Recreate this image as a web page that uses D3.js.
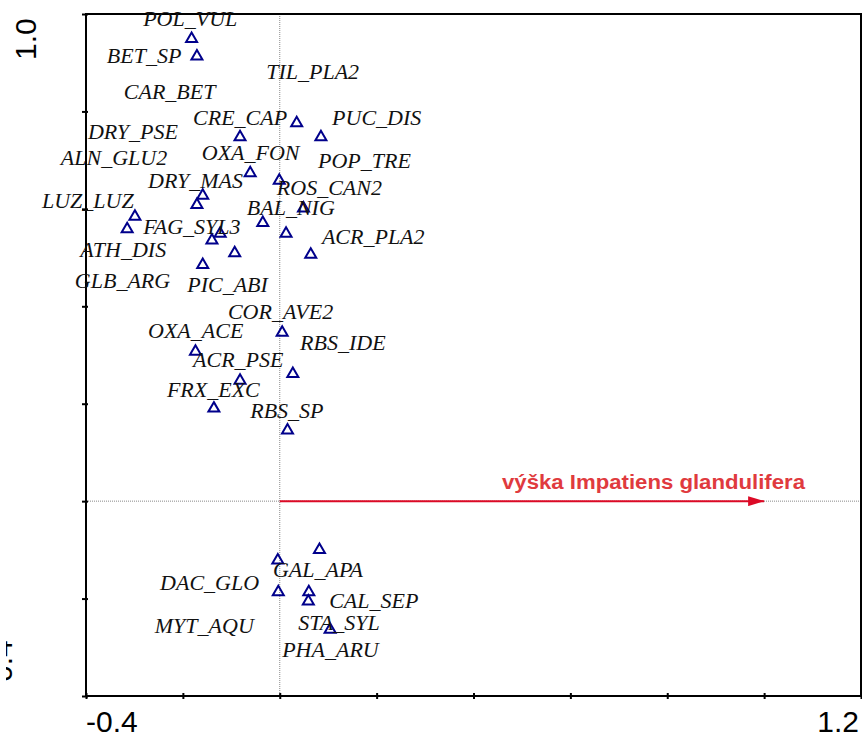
<!DOCTYPE html>
<html><head><meta charset="utf-8">
<script src="https://cdn.jsdelivr.net/npm/d3@7"></script>
<style>body{margin:0;background:#fff}svg{display:block}</style>
</head><body>
<script>
// ---- data ----
const species = ["POL_VUL","BET_SP","DRY_PSE","CRE_CAP","PUC_DIS","OXA_FON","ROS_CAN2","DRY_MAS","ALN_GLU2","BAL_NIG","LUZ_LUZ","TIL_PLA2","CAR_BET","FAG_SYL3","POP_TRE","ATH_DIS","PIC_ABI","ACR_PLA2","GLB_ARG","COR_AVE2","OXA_ACE","RBS_IDE","ACR_PSE","FRX_EXC","RBS_SP","GAL_APA","DAC_GLO","MYT_AQU","CAL_SEP","STA_SYL","PHA_ARU"];
const speciesX = [-0.182,-0.171,-0.082,0.035,0.085,-0.061,-0.001,-0.159,-0.171,0.049,-0.299,-0.035,-0.315,-0.123,0.013,-0.140,-0.093,0.064,-0.159,0.005,-0.174,0.027,-0.082,-0.136,0.016,0.082,-0.004,-0.003,0.060,0.059,0.104];
const speciesY = [0.952,0.916,0.750,0.779,0.750,0.676,0.661,0.630,0.611,0.604,0.587,0.574,0.561,0.552,0.552,0.538,0.512,0.509,0.488,0.349,0.310,0.264,0.250,0.193,0.148,-0.097,-0.119,-0.184,-0.184,-0.203,-0.261];
// label anchor positions (chart units)
const labelX = [-0.282,-0.357,-0.396,-0.179,0.108,-0.161,-0.006,-0.272,-0.452,-0.068,-0.491,-0.028,-0.322,-0.282,0.079,-0.412,-0.191,0.087,-0.423,-0.107,-0.272,0.042,-0.179,-0.233,-0.061,-0.014,-0.247,-0.258,0.102,0.038,0.005];
const labelY = [0.975,0.899,0.743,0.772,0.772,0.700,0.628,0.643,0.690,0.587,0.602,0.867,0.826,0.548,0.684,0.501,0.429,0.528,0.438,0.374,0.335,0.310,0.275,0.214,0.171,-0.156,-0.182,-0.271,-0.219,-0.265,-0.320];
const envName = "výška Impatiens glandulifera";
const envX = [0, 1.0];
const envY = [0, 0];
const xDomain = [-0.4, 1.2];
const yDomain = [-0.4, 1.0];
const xTicks = [-0.4,-0.2,0,0.2,0.4,0.6,0.8,1.0,1.2];
const yTicks = [-0.4,-0.2,0,0.2,0.4,0.6,0.8,1.0];
const xTickLabels = ["-0.4","1.2"];
const yTickLabels = ["-0.4","1.0"];

// ---- drawing ----
const W = 862, H = 736;
const L = 86, R = 861, T = 14, B = 696;
const svg = d3.select("body").append("svg").attr("width", W).attr("height", H);
const x = d3.scaleLinear().domain(xDomain).range([L, R]);
const y = d3.scaleLinear().domain(yDomain).range([B, T]);
const defs = svg.append("defs");
defs.append("clipPath").attr("id", "ylc").append("rect").attr("x", 6).attr("y", 600).attr("width", 40).attr("height", 100);

// zero lines
svg.append("line").attr("x1", x(0)).attr("x2", x(0)).attr("y1", T).attr("y2", B)
  .attr("stroke", "#888").attr("stroke-width", 1).attr("stroke-dasharray", "1,1");
svg.append("line").attr("x1", L).attr("x2", R).attr("y1", y(0)).attr("y2", y(0))
  .attr("stroke", "#888").attr("stroke-width", 1).attr("stroke-dasharray", "1,1");

// frame
svg.append("rect").attr("x", L).attr("y", T).attr("width", R - L).attr("height", B - T)
  .attr("fill", "none").attr("stroke", "#000").attr("stroke-width", 2);

// axes ticks
const xAxis = d3.axisBottom(x).tickValues(xTicks).tickSize(3).tickFormat("");
const gx = svg.append("g").attr("transform", `translate(0,${B})`).call(xAxis);
gx.select(".domain").remove();
gx.selectAll(".tick line").attr("y1", -3).attr("y2", 3).attr("stroke", "#000").attr("stroke-width", 2);
const yAxis = d3.axisLeft(y).tickValues(yTicks).tickSize(3).tickFormat("");
const gy = svg.append("g").attr("transform", `translate(${L},0)`).call(yAxis);
gy.select(".domain").remove();
gy.selectAll(".tick line").attr("x1", -4).attr("x2", 2).attr("stroke", "#000").attr("stroke-width", 2);

// tick labels
const tf = "'Liberation Sans', Arial, sans-serif";
svg.append("text").attr("x", x(xDomain[0])).attr("y", 732).attr("text-anchor", "start")
  .attr("font-family", tf).attr("font-size", 30).text(xTickLabels[0]);
svg.append("text").attr("x", x(xDomain[1]) - 2).attr("y", 732).attr("text-anchor", "end")
  .attr("font-family", tf).attr("font-size", 30).text(xTickLabels[1]);
svg.append("text").attr("transform", `translate(36,60) rotate(-90)`).attr("text-anchor", "start")
  .attr("font-family", tf).attr("font-size", 30).text(yTickLabels[1]);
svg.append("g").attr("clip-path", "url(#ylc)")
  .append("text").attr("transform", `translate(12,692) rotate(-90)`).attr("text-anchor", "start")
  .attr("font-family", tf).attr("font-size", 30).text(yTickLabels[0]);

// env arrow
defs.append("marker").attr("id", "ah").attr("viewBox", "0 0 16 10").attr("refX", 16).attr("refY", 5)
  .attr("markerWidth", 16).attr("markerHeight", 10).attr("markerUnits", "userSpaceOnUse").attr("orient", "auto")
  .append("path").attr("d", "M0,0 L16,5 L0,10 Z").attr("fill", "#dc0a26");
svg.append("line").attr("x1", x(envX[0])).attr("y1", y(envY[0])).attr("x2", x(envX[1])).attr("y2", y(envY[1]))
  .attr("stroke", "#dc0a26").attr("stroke-width", 2).attr("marker-end", "url(#ah)");
svg.append("text").attr("x", 502).attr("y", 489).attr("font-family", tf).attr("font-weight", "bold")
  .attr("font-size", 20).attr("fill", "#e03a3e").attr("textLength", 303).attr("lengthAdjust", "spacingAndGlyphs").text(envName);

// species points
const idx = d3.range(species.length);
svg.append("g").selectAll("path").data(idx).join("path")
  .attr("transform", i => `translate(${x(speciesX[i])},${y(speciesY[i])})`)
  .attr("d", "M0,-5 L5.5,4.5 L-5.5,4.5 Z")
  .attr("fill", "none").attr("stroke", "#00008b").attr("stroke-width", 2);

// species labels
svg.append("g").selectAll("text").data(idx).join("text")
  .attr("x", i => x(labelX[i])).attr("y", i => y(labelY[i]))
  .attr("font-family", "'Liberation Serif', 'Times New Roman', serif").attr("font-style", "italic")
  .attr("font-size", 22).attr("fill", "#111").text(i => species[i]);
</script>
</body></html>
